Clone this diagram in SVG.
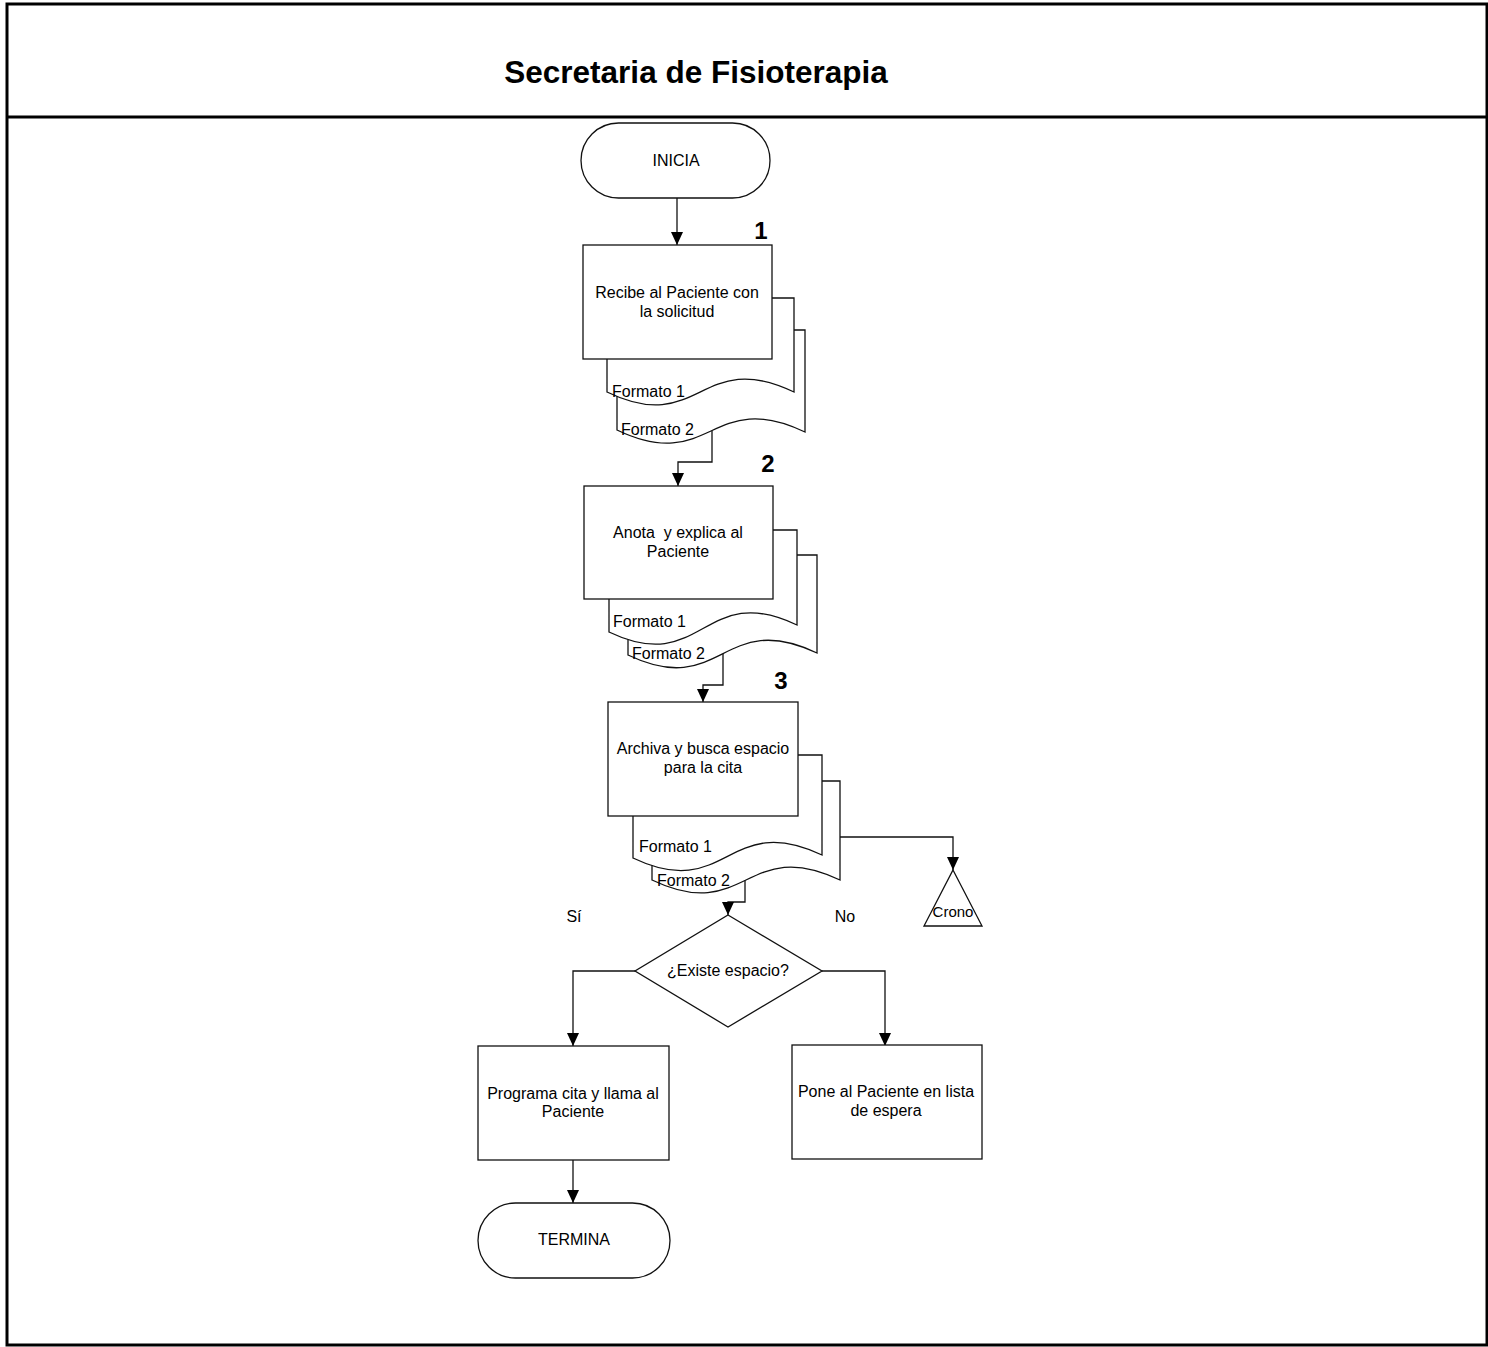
<svg xmlns="http://www.w3.org/2000/svg" width="1488" height="1347" viewBox="0 0 1488 1347">
  <style>
    .frame { fill: none; stroke: #000; stroke-width: 3; }
    .shape { fill: #fff; stroke: #111; stroke-width: 1.3; }
    .conn { fill: none; stroke: #111; stroke-width: 1.3; }
    text { font-family: "Liberation Sans", Arial, sans-serif; fill: #000; }
    .title { font-size: 31.5px; font-weight: bold; text-anchor: middle; }
    .lbl { font-size: 16px; text-anchor: middle; }
    .doc { font-size: 16px; }
    .num { font-size: 24px; font-weight: bold; text-anchor: middle; }
  </style>
  <defs>
    <marker id="arrow" viewBox="0 0 13 12" markerWidth="13" markerHeight="12" refX="13" refY="6" orient="auto" markerUnits="userSpaceOnUse">
      <path d="M0,0 L13,6 L0,12 z" fill="#000"/>
    </marker>
  </defs>

  <rect width="1488" height="1347" fill="#fff"/>

  <!-- page frame and header band -->
  <g id="frame">
    <rect class="frame" x="7" y="4" width="1480" height="1341"/>
    <line class="frame" x1="7" y1="117" x2="1487" y2="117"/>
    <text class="title" x="696" y="83">Secretaria de Fisioterapia</text>
  </g>

  <!-- connectors -->
  <g id="connectors">
    <path class="conn" d="M677,198 V245" marker-end="url(#arrow)"/>
    <path class="conn" d="M712,431 V462 H678 V486" marker-end="url(#arrow)"/>
    <path class="conn" d="M723,654 V685 H703 V702" marker-end="url(#arrow)"/>
    <path class="conn" d="M745,880 V902 H728 V915" marker-end="url(#arrow)"/>
    <path class="conn" d="M840,837 H953 V870" marker-end="url(#arrow)"/>
    <path class="conn" d="M635,971 H573 V1046" marker-end="url(#arrow)"/>
    <path class="conn" d="M822,971 H885 V1046" marker-end="url(#arrow)"/>
    <path class="conn" d="M573,1160 V1203" marker-end="url(#arrow)"/>
  </g>

  <!-- start -->
  <g id="inicia">
    <rect class="shape" x="581" y="123" width="189" height="75" rx="37.5" ry="37.5"/>
    <text class="lbl" x="676" y="166">INICIA</text>
  </g>

  <!-- step 1 with its two forms -->
  <g id="step1">
    <path class="shape" d="M617,330 H805 V432 C711,387 711,475 617,430 Z"/>
    <text class="doc" x="621" y="435">Formato 2</text>
    <path class="shape" d="M607,298 H794 V392 C700,347 700,437 607,392 Z"/>
    <text class="doc" x="612" y="397">Formato 1</text>
    <rect class="shape" x="583" y="245" width="189" height="114"/>
    <text class="lbl" x="677" y="298">Recibe al Paciente con</text>
    <text class="lbl" x="677" y="317">la solicitud</text>
    <text class="num" x="761" y="239">1</text>
  </g>

  <!-- step 2 with its two forms -->
  <g id="step2">
    <path class="shape" d="M628,555 H817 V653 C722,608 722,700 628,655 Z"/>
    <text class="doc" x="632" y="659">Formato 2</text>
    <path class="shape" d="M609,530 H797 V625 C703,580 703,677 609,632 Z"/>
    <text class="doc" x="613" y="627">Formato 1</text>
    <rect class="shape" x="584" y="486" width="189" height="113"/>
    <text class="lbl" x="678" y="538" xml:space="preserve">Anota  y explica al</text>
    <text class="lbl" x="678" y="557">Paciente</text>
    <text class="num" x="768" y="472">2</text>
  </g>

  <!-- step 3 with its two forms -->
  <g id="step3">
    <path class="shape" d="M652,781 H840 V880 C746,835 746,925 652,880 Z"/>
    <text class="doc" x="657" y="886">Formato 2</text>
    <path class="shape" d="M633,755 H822 V855 C727,810 727,903 633,858 Z"/>
    <text class="doc" x="639" y="852">Formato 1</text>
    <rect class="shape" x="608" y="702" width="190" height="114"/>
    <text class="lbl" x="703" y="754">Archiva y busca espacio</text>
    <text class="lbl" x="703" y="773">para la cita</text>
    <text class="num" x="781" y="689">3</text>
  </g>

  <!-- file / chronological archive -->
  <g id="crono">
    <path class="shape" d="M953,870 L982,926 H924 Z"/>
    <text class="lbl" x="953" y="917" style="font-size:15px">Crono</text>
  </g>

  <!-- decision -->
  <g id="decision">
    <path class="shape" d="M728,915 L822,971 L728,1027 L635,971 Z"/>
    <text class="lbl" x="728" y="976">¿Existe espacio?</text>
    <text class="lbl" x="574" y="922">Sí</text>
    <text class="lbl" x="845" y="922">No</text>
  </g>

  <!-- yes branch -->
  <g id="programa">
    <rect class="shape" x="478" y="1046" width="191" height="114"/>
    <text class="lbl" x="573" y="1099">Programa cita y llama al</text>
    <text class="lbl" x="573" y="1117">Paciente</text>
  </g>

  <!-- no branch -->
  <g id="pone">
    <rect class="shape" x="792" y="1045" width="190" height="114"/>
    <text class="lbl" x="886" y="1097">Pone al Paciente en lista</text>
    <text class="lbl" x="886" y="1116">de espera</text>
  </g>

  <!-- end -->
  <g id="termina">
    <rect class="shape" x="478" y="1203" width="192" height="75" rx="37.5" ry="37.5"/>
    <text class="lbl" x="574" y="1245">TERMINA</text>
  </g>
</svg>
